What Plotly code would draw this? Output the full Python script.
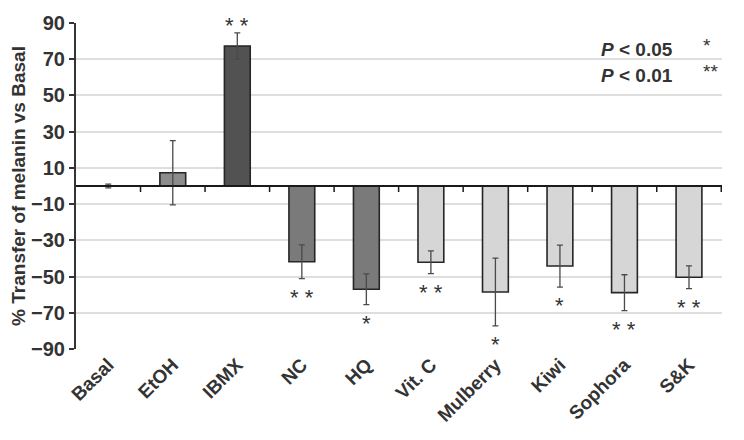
import plotly.graph_objects as go

categories = ["Basal", "EtOH", "IBMX", "NC", "HQ", "Vit. C", "Mulberry", "Kiwi", "Sophora", "S&K"]
values = [0.0, 7.3, 77.3, -41.8, -57.0, -42.1, -58.5, -44.2, -58.9, -50.4]
errors = [1.0, 17.7, 7.3, 9.3, 8.5, 6.3, 18.7, 11.6, 9.9, 6.3]
stars = ["", "", "**", "**", "*", "**", "*", "*", "**", "**"]
bar_colors = ["#8a8a8a", "#8c8c8c", "#525252", "#7a7a7a", "#7a7a7a",
              "#d6d6d6", "#d6d6d6", "#d6d6d6", "#d6d6d6", "#d6d6d6"]
y_ticks = [-90, -70, -50, -30, -10, 10, 30, 50, 70, 90]
y_ticktext = ["\u221290", "\u221270", "\u221250", "\u221230", "\u221210", "10", "30", "50", "70", "90"]

TXT = "#333333"
FONT = "Liberation Sans, Arial, sans-serif"

fig = go.Figure()
fig.add_trace(go.Bar(
    x=categories, y=values, width=0.4,
    marker=dict(color=bar_colors, line=dict(color="#262626", width=1.6)),
    error_y=dict(type="data", array=errors, visible=True, color="#4a4a4a", thickness=1.3, width=3),
    showlegend=False,
))

annotations = []
for i, (c, v, e, s) in enumerate(zip(categories, values, errors, stars)):
    if not s:
        continue
    label = " ".join(s)
    if v >= 0:
        annotations.append(dict(x=c, y=v + e, text=label, showarrow=False, yanchor="bottom", yshift=-7,
                                font=dict(family=FONT, size=22, color=TXT)))
    else:
        annotations.append(dict(x=c, y=v - e, text=label, showarrow=False, yanchor="top", yshift=-4,
                                font=dict(family=FONT, size=22, color=TXT)))

# significance key
annotations += [
    dict(xref="paper", yref="paper", x=0.81, y=0.918, xanchor="left", yanchor="middle", showarrow=False,
         text="<b><i>P</i> < 0.05</b>", font=dict(family=FONT, size=19, color=TXT)),
    dict(xref="paper", yref="paper", x=0.81, y=0.838, xanchor="left", yanchor="middle", showarrow=False,
         text="<b><i>P</i> < 0.01</b>", font=dict(family=FONT, size=19, color=TXT)),
    dict(xref="paper", yref="paper", x=0.977, y=0.93, xanchor="center", yanchor="middle", showarrow=False,
         text="*", font=dict(family=FONT, size=19, color=TXT)),
    dict(xref="paper", yref="paper", x=0.982, y=0.85, xanchor="center", yanchor="middle", showarrow=False,
         text="**", font=dict(family=FONT, size=19, color=TXT)),
]

shapes = [
    dict(type="rect", xref="paper", yref="paper", x0=0.79, x1=1.0, y0=0.8, y1=1.0,
         fillcolor="white", line=dict(width=0), layer="between"),
    dict(type="line", xref="paper", yref="y", x0=0, x1=1, y0=0, y1=0,
         line=dict(color="#1a1a1a", width=2), layer="above"),
]
for i in range(len(categories)):
    shapes.append(dict(type="line", xref="x", yref="y", ysizemode="pixel", yanchor=0,
                       x0=i + 0.5, x1=i + 0.5, y0=0, y1=-6,
                       line=dict(color="#1a1a1a", width=1.5), layer="above"))

# page body has an 8px default margin, so the figure is sized to fit inside the window
fig.update_layout(
    width=736, height=432,
    margin=dict(l=68, r=22, t=15, b=91),
    paper_bgcolor="white", plot_bgcolor="white",
    font=dict(family=FONT, color=TXT),
    annotations=annotations, shapes=shapes,
    bargap=0.6,
)
fig.update_xaxes(
    tickangle=-45, tickfont=dict(family=FONT, size=19, color=TXT),
    showline=False, ticks="", showgrid=False, automargin=False,
    tickprefix="<b>", ticksuffix="</b>",
)
fig.update_yaxes(
    range=[-90, 90], tickvals=y_ticks, ticktext=["<b>" + t + "</b>" for t in y_ticktext],
    tickfont=dict(family=FONT, size=20, color=TXT),
    showline=True, linecolor="#333333", linewidth=2, automargin=False,
    ticks="outside", ticklen=5, tickwidth=2, tickcolor="#333333",
    showgrid=True, gridcolor="#dedede", gridwidth=1.5, zeroline=False,
    title=dict(text="<b>% Transfer of melanin vs Basal</b>", font=dict(family=FONT, size=19, color=TXT), standoff=4),
)

fig.write_html("out.html")
